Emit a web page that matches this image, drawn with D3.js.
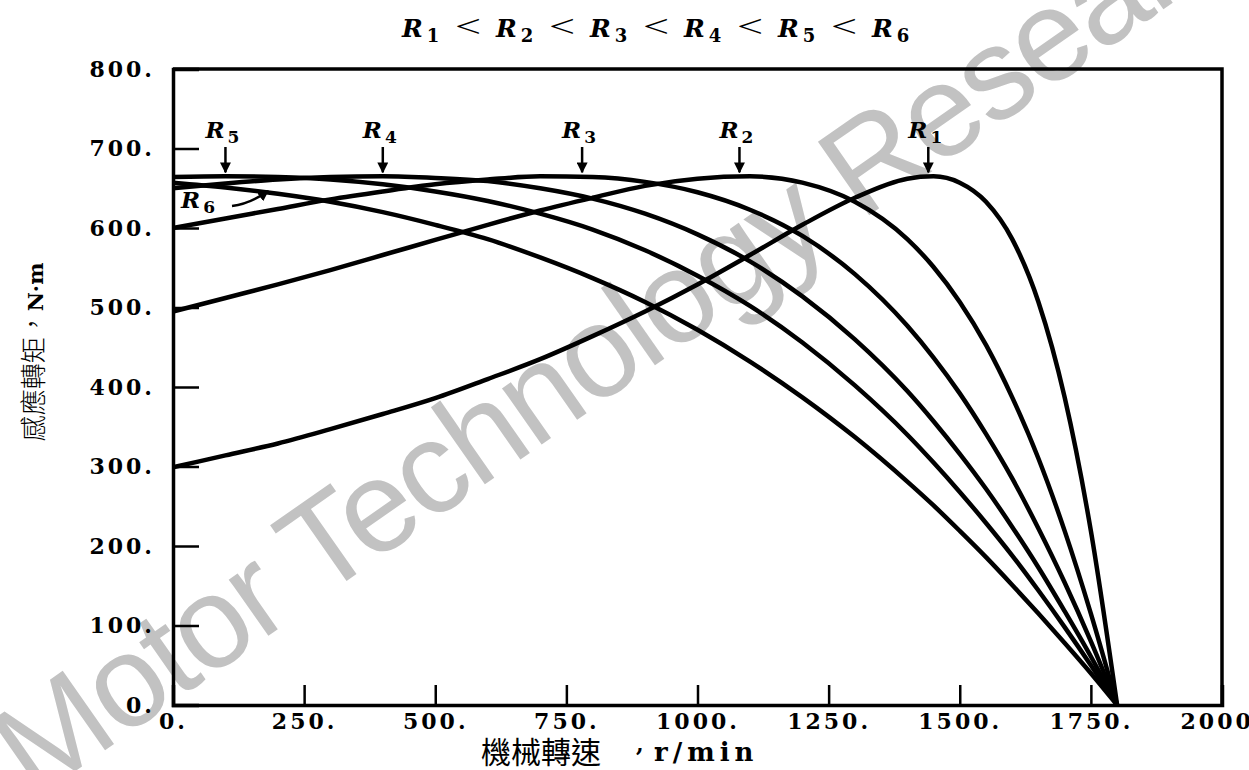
<!DOCTYPE html>
<html>
<head>
<meta charset="utf-8">
<script src="https://cdn.jsdelivr.net/npm/d3@7"></script>
<style>
  body { margin: 0; background: #fff; }
  svg { display: block; }
  .tick text { font-family: "DejaVu Serif", serif; font-weight: bold; font-size: 22px; letter-spacing: 3px; fill: #000; }
</style>
</head>
<body>
<div id="chart"></div>
<script>
// Chart data
var speed = [0, 100, 200, 300, 400, 500, 600, 700, 800, 900, 1000, 1100, 1200,
  1300, 1400, 1450, 1500, 1550, 1600, 1650, 1700, 1750, 1800];
var torqueR1 = [299, 314, 329, 347, 366, 386, 410, 435, 464, 495, 529, 566, 604,
  638, 662, 665, 657, 633, 586, 507, 387, 219, 0];
var torqueR2 = [495, 512, 529, 547, 566, 585, 604, 622, 638, 653, 662, 665, 657,
  633, 586, 551, 507, 453, 387, 310, 219, 115, 0];
var torqueR3 = [600, 612, 624, 636, 646, 655, 661, 665, 664, 658, 645, 623, 590,
  542, 477, 437, 392, 341, 285, 222, 154, 80, 0];
var torqueR4 = [650, 656, 661, 664, 665, 663, 659, 650, 637, 618, 592, 558, 514,
  460, 395, 357, 316, 272, 224, 173, 118, 61, 0];
var torqueR5 = [664, 665, 664, 661, 655, 646, 634, 618, 598, 572, 540, 502, 456,
  402, 340, 305, 268, 229, 188, 144, 98, 50, 0];
var torqueR6 = [657, 651, 643, 633, 620, 604, 586, 563, 537, 507, 472, 432, 387,
  337, 281, 251, 219, 186, 151, 115, 78, 40, 0];

// speed of maximum torque for R1..R5 (arrow labels)
var peakSpeed = [1440, 1080, 780, 400, 100];
var peakTorque = 665;

var xTicks = [0, 250, 500, 750, 1000, 1250, 1500, 1750, 2000];
var yTicks = [0, 100, 200, 300, 400, 500, 600, 700, 800];

var svgWidth = 1249;
var svgHeight = 770;

var svg = d3.select("#chart")
  .append("svg")
  .attr("width", svgWidth)
  .attr("height", svgHeight);

// arrow head
svg.append("defs").append("marker")
  .attr("id", "head")
  .attr("viewBox", "0 0 10 10")
  .attr("refX", 9).attr("refY", 5)
  .attr("markerWidth", 11).attr("markerHeight", 11)
  .attr("markerUnits", "userSpaceOnUse")
  .attr("orient", "auto")
  .append("path")
  .attr("d", "M0,0 L10,5 L0,10 z")
  .attr("fill", "#000");

// watermark (behind the chart)
svg.append("text")
  .attr("transform", "translate(34,800) rotate(-35)")
  .attr("font-family", "Liberation Sans, Arial, sans-serif")
  .attr("font-size", 130)
  .attr("letter-spacing", -3)
  .attr("fill", "#c2c2c2")
  .text("Motor Technology Research");

// scales
var x = d3.scaleLinear().domain([0, 2000]).range([173, 1222]);
var y = d3.scaleLinear().domain([0, 800]).range([705, 69]);

// axes, ticks pointing inward
var bottomAxis = d3.axisBottom(x)
  .tickValues(xTicks)
  .tickSize(-20)
  .tickPadding(8)
  .tickFormat(d => d + ".");
var leftAxis = d3.axisLeft(y)
  .tickValues(yTicks)
  .tickSize(-26)
  .tickPadding(18)
  .tickFormat(d => d + ".");

var gx = svg.append("g")
  .attr("transform", `translate(0, ${y(0)})`)
  .call(bottomAxis);
var gy = svg.append("g")
  .attr("transform", `translate(${x(0)}, 0)`)
  .call(leftAxis);

[gx, gy].forEach(function(g) {
  g.select(".domain").attr("stroke-width", 3.5);
  g.selectAll(".tick line").attr("stroke-width", 2.5);
});

// top and right frame
svg.append("path")
  .attr("d", `M${x(0)},${y(800)} H${x(2000)} V${y(0)}`)
  .attr("fill", "none")
  .attr("stroke", "#000")
  .attr("stroke-width", 3.5);

// curves
var series = [torqueR1, torqueR2, torqueR3, torqueR4, torqueR5, torqueR6];
var line = d3.line()
  .x((d, i) => x(speed[i]))
  .y(d => y(d))
  .curve(d3.curveMonotoneX);

svg.append("g").selectAll("path")
  .data(series)
  .enter()
  .append("path")
  .attr("d", line)
  .attr("fill", "none")
  .attr("stroke", "#000")
  .attr("stroke-width", 4.5)
  .attr("stroke-linejoin", "round");

// R labels with arrows at the torque peaks
var labelGroup = svg.append("g");
function rLabel(g, lx, ly, n) {
  var t = g.append("text")
    .attr("x", lx)
    .attr("y", ly)
    .attr("font-family", "DejaVu Serif, serif")
    .attr("font-weight", "bold");
  t.append("tspan").attr("font-style", "italic").attr("font-size", 23).text("R");
  t.append("tspan").attr("font-size", 17).attr("dy", 5).attr("dx", 3).text(n);
}

peakSpeed.forEach(function(s, i) {
  var ax = x(s);
  labelGroup.append("line")
    .attr("x1", ax).attr("y1", 147)
    .attr("x2", ax).attr("y2", y(peakTorque) - 4)
    .attr("stroke", "#000")
    .attr("stroke-width", 2.5)
    .attr("marker-end", "url(#head)");
  rLabel(labelGroup, ax - 20, 138, i + 1);
});

// R6 label with curved arrow
rLabel(labelGroup, 181, 208, 6);
labelGroup.append("path")
  .attr("d", "M232,206 Q250,204 268,191")
  .attr("fill", "none")
  .attr("stroke", "#000")
  .attr("stroke-width", 2.5)
  .attr("marker-end", "url(#head)");

// title: R1 < R2 < ... < R6
var titleGroup = svg.append("g");
[1, 2, 3, 4, 5, 6].forEach(function(n, i) {
  var t = titleGroup.append("text")
    .attr("x", 402 + i * 94)
    .attr("y", 37)
    .attr("font-family", "DejaVu Serif, serif")
    .attr("font-weight", "bold");
  t.append("tspan").attr("font-style", "italic").attr("font-size", 25).text("R");
  t.append("tspan").attr("font-size", 18).attr("dy", 5).attr("dx", 4).text(n);
  if (i < 5) {
    titleGroup.append("text")
      .attr("transform", `translate(${455 + i * 94}, 37) scale(1.45, 1)`)
      .attr("font-family", "Liberation Serif, serif")
      .attr("font-size", 32)
      .text("<");
  }
});

// axis titles
var yTitle = svg.append("text")
  .attr("transform", "translate(43, 352) rotate(-90)")
  .attr("text-anchor", "middle")
  .attr("font-size", 26);
yTitle.append("tspan").attr("font-family", "Noto Sans CJK TC, sans-serif").attr("font-weight", 300).text("感應轉矩，");
yTitle.append("tspan").attr("font-family", "DejaVu Serif, serif").attr("font-weight", "bold").attr("font-size", 21).text("N·m");

svg.append("text")
  .attr("x", 481)
  .attr("y", 763)
  .attr("font-family", "Noto Sans CJK TC, sans-serif")
  .attr("font-size", 30)
  .text("機械轉速");
svg.append("text")
  .attr("x", 636)
  .attr("y", 752)
  .attr("font-family", "DejaVu Serif, serif")
  .attr("font-weight", "bold")
  .attr("font-size", 22)
  .text(",");
svg.append("text")
  .attr("x", 654)
  .attr("y", 761)
  .attr("font-family", "DejaVu Serif, serif")
  .attr("font-weight", "bold")
  .attr("font-size", 26)
  .attr("letter-spacing", 5)
  .text("r/min");
</script>
</body>
</html>
